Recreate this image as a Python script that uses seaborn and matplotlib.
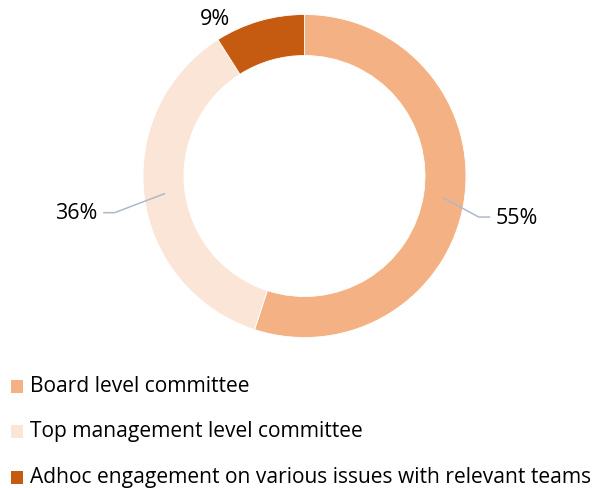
import numpy as np
import matplotlib
matplotlib.use("Agg")
import matplotlib.pyplot as plt
import seaborn as sns
from matplotlib.patches import Rectangle

# data
categories = [
    "Board level committee",
    "Top management level committee",
    "Adhoc engagement on various issues with relevant teams",
]
shares = [55, 36, 9]
share_labels = ["55%", "36%", "9%"]
colors = sns.color_palette(["#F4B183", "#FBE5D6", "#C55A11"])

sns.set_style("white")
plt.rcParams["font.family"] = ["Open Sans", "DejaVu Sans"]

W, H = 593, 488
fig = plt.figure(figsize=(W / 100, H / 100), dpi=100)
ax = fig.add_axes([0, 0, 1, 1])

cx, cy = 304.5, H - 176
r_out, ring = 161.5, 41

wedges, _ = ax.pie(
    shares,
    colors=colors,
    startangle=90,
    counterclock=False,
    center=(cx, cy),
    radius=r_out,
    wedgeprops=dict(width=ring, edgecolor="white", linewidth=0.6),
)
ax.set_xlim(0, W)
ax.set_ylim(0, H)
ax.set_aspect("equal")
ax.axis("off")

# percentage labels with leader lines
line_col = "#ADB9CA"
r_mid = r_out - ring / 2
for w, lab in zip(wedges, share_labels):
    ang = np.deg2rad((w.theta1 + w.theta2) / 2)
    px, py = cx + r_mid * np.cos(ang), cy + r_mid * np.sin(ang)
    if lab == "9%":
        # small slice: label sits just outside, no leader
        ax.text(cx + r_out * np.cos(ang) - 44, cy + r_out * np.sin(ang) + 1, lab,
                fontsize=15.5, ha="center", va="center", color="#000000")
        continue
    side = 1 if np.cos(ang) > 0 else -1
    dx = 35 if side > 0 else 50
    ex, ey = px + side * dx, py - 19
    tx = ex + side * 11
    ax.plot([px, ex, tx], [py, ey, ey], color=line_col, lw=1.1,
            solid_joinstyle="miter")
    ax.text(tx + side * 6, ey - 1, lab, fontsize=15.5,
            ha="left" if side > 0 else "right", va="center", color="#000000")

# legend
for i, (cat, col) in enumerate(zip(categories, colors)):
    ty = H - (386 + i * 45.5)
    ax.add_patch(Rectangle((11, ty - 6.5), 12, 13, color=col, lw=0))
    ax.text(30, ty, cat, fontsize=15.1, ha="left", va="center", color="#000000")

fig.savefig("out.png", dpi=100, facecolor="white")
